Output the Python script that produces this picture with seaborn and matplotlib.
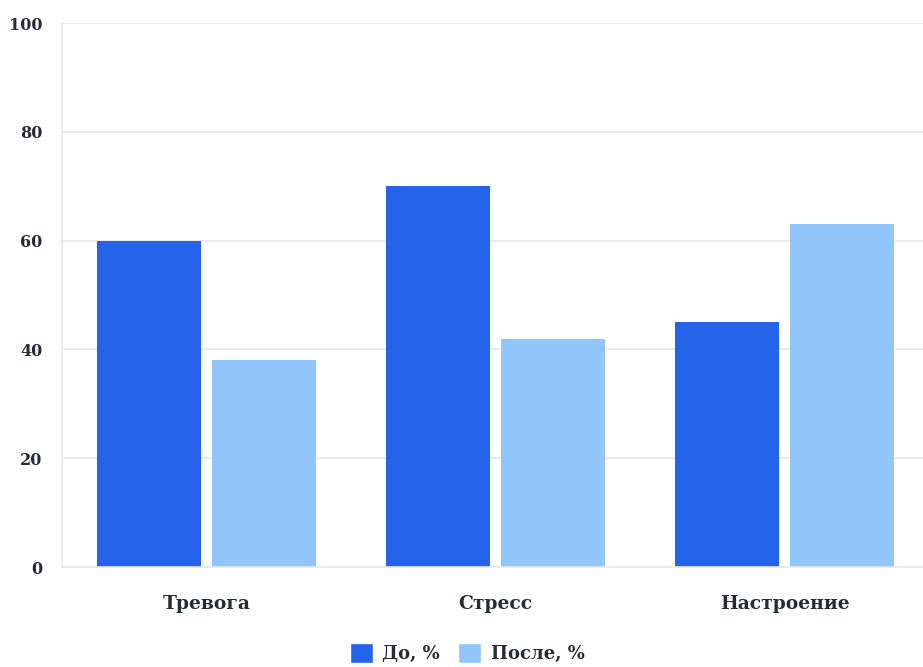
import pandas as pd
import matplotlib.pyplot as plt
import seaborn as sns
from matplotlib.patches import Patch

categories = ['Тревога', 'Стресс', 'Настроение']
do_values = [60, 70, 45]
posle_values = [38, 42, 63]
series_names = ['До, %', 'После, %']
colors = ['#2563eb', '#93c5fd']

df = pd.DataFrame({
    'Категория': categories * 2,
    'Значение': do_values + posle_values,
    'Серия': [series_names[0]] * 3 + [series_names[1]] * 3,
})

sns.set_style('white')
plt.rcParams['font.family'] = ['DejaVu Serif']

fig = plt.figure(figsize=(9.23, 6.67), dpi=100)
ax = fig.add_axes([62 / 923, 100 / 667, 867 / 923, 544 / 667])

sns.barplot(
    data=df,
    x='Категория',
    y='Значение',
    hue='Серия',
    palette=colors,
    saturation=1,
    gap=0.1,
    width=0.8,
    linewidth=0,
    ax=ax,
    legend=False,
)

grid_c = '#e8e8ec'
text_c = '#262b36'
ax.set_ylim(0, 100)
ax.set_xlim(-0.5, 2.5)
ax.set_yticks([0, 20, 40, 60, 80, 100])
ax.yaxis.grid(True, color=grid_c, linewidth=1.2)
ax.set_axisbelow(True)
for s in ['top', 'right']:
    ax.spines[s].set_visible(False)
for s in ['left', 'bottom']:
    ax.spines[s].set_color(grid_c)
    ax.spines[s].set_linewidth(1.2)
ax.tick_params(axis='y', length=9, color=grid_c, width=1.2, pad=5,
               labelsize=11.5, labelcolor=text_c)
ax.tick_params(axis='x', length=0, pad=20, labelsize=13.5, labelcolor=text_c)
for lbl in ax.get_yticklabels() + ax.get_xticklabels():
    lbl.set_fontweight('bold')
ax.set_xlabel('')
ax.set_ylabel('')

handles = [Patch(facecolor=c, label=n) for c, n in zip(colors, series_names)]
fig.legend(handles=handles, loc='center', bbox_to_anchor=(0.506, 0.021),
           ncol=2, frameon=False, handlelength=1.3, handleheight=1.4,
           handletextpad=0.5, columnspacing=1.0,
           prop={'family': 'DejaVu Serif', 'weight': 'bold', 'size': 13})
for t in fig.legends[0].get_texts():
    t.set_color(text_c)

fig.savefig('out.png', dpi=100)
